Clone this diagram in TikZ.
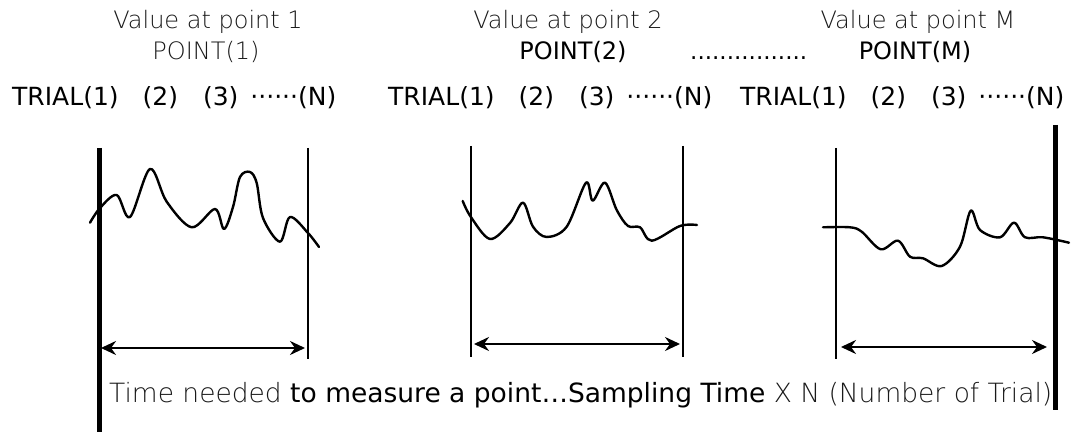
\documentclass[tikz,border=0pt]{standalone}
\usepackage{fontspec}
\setmainfont{DejaVu Sans}
\newfontfamily\lightfont{DejaVu Sans ExtraLight}
\usetikzlibrary{arrows.meta}
\tikzset{
  lighttxt/.style={font=\lightfont\fontsize{24}{28}\selectfont, text=black!90, inner sep=0pt, anchor=base},
  darktxt/.style={font=\fontsize{24}{28}\selectfont, text=black, inner sep=0pt, anchor=base},
  rowtxt/.style={font=\fontsize{25}{29}\selectfont, text=black, inner sep=0pt, anchor=base west},
  thinline/.style={line width=2.2pt},
  thickline/.style={line width=5pt},
  wave/.style={line width=2.4pt, line join=round, line cap=round},
  span/.style={line width=2.4pt, {Stealth[length=15pt,width=14pt,inset=5pt]}-{Stealth[length=15pt,width=14pt,inset=5pt]}}
}
\newcommand{\mdots}{\symbol{"00B7}\symbol{"00B7}\symbol{"00B7}\symbol{"00B7}\symbol{"00B7}\symbol{"00B7}}
\begin{document}
\begin{tikzpicture}[x=1pt,y=-1pt]
\useasboundingbox (0,0) rectangle (1085,435);
% headings
\node[lighttxt] (v1) at (208,29) {Value at point 1};
\node[lighttxt] (p1) at (206,60) {POINT(1)};
\node[lighttxt] (v2) at (568,29) {Value at point 2};
\node[darktxt] (p2) at (573,60) {POINT(2)};
\node[darktxt, anchor=base west, font=\fontsize{23}{27}\selectfont] (dots) at (690,60) {................};
\node[lighttxt] (vm) at (918,29) {Value at point M};
\node[darktxt] (pm) at (915,60) {POINT(M)};
% trial rows
\node[rowtxt] (t1) at (12,106) {TRIAL(1)\hspace{24pt}(2)\hspace{25pt}(3)\hspace{12pt}\mdots(N)};
\node[rowtxt] (t2) at (388,106) {TRIAL(1)\hspace{24pt}(2)\hspace{25pt}(3)\hspace{12pt}\mdots(N)};
\node[rowtxt] (t3) at (740,106) {TRIAL(1)\hspace{24pt}(2)\hspace{25pt}(3)\hspace{12pt}\mdots(N)};
% vertical lines
\coordinate (a1t) at (99,148);  \coordinate (a1b) at (99,432);
\coordinate (b1t) at (308,148); \coordinate (b1b) at (308,359);
\coordinate (a2t) at (471,146); \coordinate (a2b) at (471,357);
\coordinate (b2t) at (683,146); \coordinate (b2b) at (683,357);
\coordinate (a3t) at (836,148); \coordinate (a3b) at (836,359);
\coordinate (b3t) at (1055,125); \coordinate (b3b) at (1055,410);
\draw[thickline] (a1t) -- (a1b);
\draw[thinline] (b1t) -- (b1b);
\draw[thinline] (a2t) -- (a2b);
\draw[thinline] (b2t) -- (b2b);
\draw[thinline] (a3t) -- (a3b);
\draw[thickline] (b3t) -- (b3b);
% waves
\draw[wave] plot[smooth, tension=0.55] coordinates {(90,222.7) (100,208) (116.7,195) (130,217) (150,169) (166.7,201.7) (191.7,227.3) (215,209) (224,229) (233,207) (240,177) (250,172) (256.7,183) (263,218) (280,241.7) (290,217) (308,233) (319,247)};
\draw[wave] plot[smooth, tension=0.55] coordinates {(462.7,201) (470.7,216.7) (490,239) (510,223) (523,202.7) (533,226.7) (546.7,237) (566.7,226.7) (586,182.7) (592.7,200.7) (605,182.7) (616.7,210) (628,226) (640,227.3) (651.7,240.7) (680,226) (697,225)};
\draw[wave] plot[smooth, tension=0.55] coordinates {(823,227.3) (850,227.3) (861.7,231.7) (880.7,249.3) (898,240.7) (910,256.7) (923,258.3) (941.7,266) (960,246.7) (970.7,210.7) (980,230) (1000,237.3) (1014,222.7) (1025,237.3) (1043,237.3) (1069,242.7)};
% span arrows
\coordinate (s1l) at (101,348); \coordinate (s1r) at (305,348);
\coordinate (s2l) at (474,344); \coordinate (s2r) at (680,344);
\coordinate (s3l) at (841,347); \coordinate (s3r) at (1047,347);
\draw[span] (s1l) -- (s1r);
\draw[span] (s2l) -- (s2r);
\draw[span] (s3l) -- (s3r);
% bottom caption
\node[rowtxt, font=\fontsize{26.5}{30}\selectfont] (cap) at (109,403) {{\lightfont\color{black!90}Time needed}\ to measure a point\ldots Sampling Time\ {\lightfont\color{black!90}X N (Number of Trial)}};
\end{tikzpicture}
\end{document}
